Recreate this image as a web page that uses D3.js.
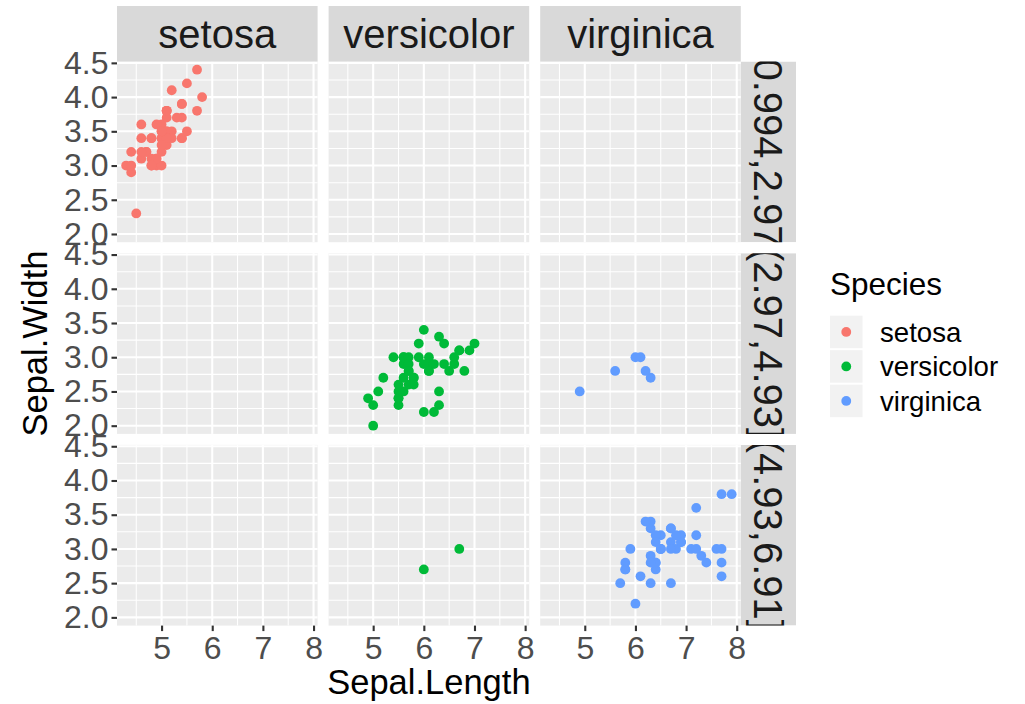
<!DOCTYPE html>
<html>
<head>
<meta charset="utf-8">
<script src="https://cdn.jsdelivr.net/npm/d3@7"></script>
<style>
  html, body { margin: 0; padding: 0; background: #ffffff; }
  svg { display: block; font-family: "Liberation Sans", Arial, Helvetica, sans-serif; }
</style>
</head>
<body>
<svg id="chart" width="1025" height="704"></svg>
<script>
// Facet columns (species) and facet rows (Petal.Length binned into 3 intervals)
const species = ["setosa", "versicolor", "virginica"];
const speciesColors = ["#F8766D", "#00BA38", "#619CFF"];
const petalBreaks = [0.994, 2.97, 4.93, 6.91];
const petalBinLabels = ["(0.994,2.97]", "(2.97,4.93]", "(4.93,6.91]"];
const xTicks = [5, 6, 7, 8];
const yTicks = [2.0, 2.5, 3.0, 3.5, 4.0, 4.5];
const xMinor = [4.5, 5.5, 6.5, 7.5];
const yMinor = [2.25, 2.75, 3.25, 3.75, 4.25];

// Iris measurements per species
const setosaSepalLength = [5.1,4.9,4.7,4.6,5.0,5.4,4.6,5.0,4.4,4.9,5.4,4.8,4.8,4.3,5.8,5.7,5.4,5.1,5.7,5.1,5.4,5.1,4.6,5.1,4.8,5.0,5.0,5.2,5.2,4.7,4.8,5.4,5.2,5.5,4.9,5.0,5.5,4.9,4.4,5.1,5.0,4.5,4.4,5.0,5.1,4.8,5.1,4.6,5.3,5.0];
const setosaSepalWidth  = [3.5,3.0,3.2,3.1,3.6,3.9,3.4,3.4,2.9,3.1,3.7,3.4,3.0,3.0,4.0,4.4,3.9,3.5,3.8,3.8,3.4,3.7,3.6,3.3,3.4,3.0,3.4,3.5,3.4,3.2,3.1,3.4,4.1,4.2,3.1,3.2,3.5,3.6,3.0,3.4,3.5,2.3,3.2,3.5,3.8,3.0,3.8,3.2,3.7,3.3];
const setosaPetalLength = [1.4,1.4,1.3,1.5,1.4,1.7,1.4,1.5,1.4,1.5,1.5,1.6,1.4,1.1,1.2,1.5,1.3,1.4,1.7,1.5,1.7,1.5,1.0,1.7,1.9,1.6,1.6,1.5,1.4,1.6,1.6,1.5,1.5,1.4,1.5,1.2,1.3,1.4,1.3,1.5,1.3,1.3,1.3,1.6,1.9,1.4,1.6,1.4,1.5,1.4];

const versicolorSepalLength = [7.0,6.4,6.9,5.5,6.5,5.7,6.3,4.9,6.6,5.2,5.0,5.9,6.0,6.1,5.6,6.7,5.6,5.8,6.2,5.6,5.9,6.1,6.3,6.1,6.4,6.6,6.8,6.7,6.0,5.7,5.5,5.5,5.8,6.0,5.4,6.0,6.7,6.3,5.6,5.5,5.5,6.1,5.8,5.0,5.6,5.7,5.7,6.2,5.1,5.7];
const versicolorSepalWidth  = [3.2,3.2,3.1,2.3,2.8,2.8,3.3,2.4,2.9,2.7,2.0,3.0,2.2,2.9,2.9,3.1,3.0,2.7,2.2,2.5,3.2,2.8,2.5,2.8,2.9,3.0,2.8,3.0,2.9,2.6,2.4,2.4,2.7,2.7,3.0,3.4,3.1,2.3,3.0,2.5,2.6,3.0,2.6,2.3,2.7,3.0,2.9,2.9,2.5,2.8];
const versicolorPetalLength = [4.7,4.5,4.9,4.0,4.6,4.5,4.7,3.3,4.6,3.9,3.5,4.2,4.0,4.7,3.6,4.4,4.5,4.1,4.5,3.9,4.8,4.0,4.9,4.7,4.3,4.4,4.8,5.0,4.5,3.5,3.8,3.7,3.9,5.1,4.5,4.5,4.7,4.4,4.1,4.0,4.4,4.6,4.0,3.3,4.2,4.2,4.2,4.3,3.0,4.1];

const virginicaSepalLength = [6.3,5.8,7.1,6.3,6.5,7.6,4.9,7.3,6.7,7.2,6.5,6.4,6.8,5.7,5.8,6.4,6.5,7.7,7.7,6.0,6.9,5.6,7.7,6.3,6.7,7.2,6.2,6.1,6.4,7.2,7.4,7.9,6.4,6.3,6.1,7.7,6.3,6.4,6.0,6.9,6.7,6.9,5.8,6.8,6.7,6.7,6.3,6.5,6.2,5.9];
const virginicaSepalWidth  = [3.3,2.7,3.0,2.9,3.0,3.0,2.5,2.9,2.5,3.6,3.2,2.7,3.0,2.5,2.8,3.2,3.0,3.8,2.6,2.2,3.2,2.8,2.8,2.7,3.3,3.2,2.8,3.0,2.8,3.0,2.8,3.8,2.8,2.8,2.6,3.0,3.4,3.1,3.0,3.1,3.1,3.1,2.7,3.2,3.3,3.0,2.5,3.0,3.4,3.0];
const virginicaPetalLength = [6.0,5.1,5.9,5.6,5.8,6.6,4.5,6.3,5.8,6.1,5.1,5.3,5.5,5.0,5.1,5.3,5.5,6.7,6.9,5.0,5.7,4.9,6.7,4.9,5.7,6.0,4.8,4.9,5.6,5.8,6.1,6.4,5.6,5.1,5.6,6.1,5.6,5.5,4.8,5.4,5.6,5.1,5.1,5.9,5.7,5.2,5.0,5.2,5.4,5.1];

const sepalLength = [setosaSepalLength, versicolorSepalLength, virginicaSepalLength];
const sepalWidth = [setosaSepalWidth, versicolorSepalWidth, virginicaSepalWidth];
const petalLength = [setosaPetalLength, versicolorPetalLength, virginicaPetalLength];

// Long-format table with facet row/column indices
const points = [];
species.forEach((sp, col) => {
  sepalLength[col].forEach((sl, i) => {
    const pl = petalLength[col][i];
    let row = 0;
    while (row < petalBinLabels.length - 1 && pl > petalBreaks[row + 1]) row++;
    points.push({ species: sp, col, row, x: sl, y: sepalWidth[col][i] });
  });
});

// Layout
const panelLeft = 117, panelTop = 61.5;
const panelW = 200.6, panelH = 180.7, gap = 11;
const stripTopY = 6, stripTopH = panelTop - stripTopY;
const stripRightW = 55.2;

const allX = sepalLength.flat(), allY = sepalWidth.flat();
const xExt = d3.extent(allX), yExt = d3.extent(allY);
const xPad = (xExt[1] - xExt[0]) * 0.05, yPad = (yExt[1] - yExt[0]) * 0.05;

const x = d3.scaleLinear().domain([xExt[0] - xPad, xExt[1] + xPad]).range([0, panelW]);
const y = d3.scaleLinear().domain([yExt[0] - yPad, yExt[1] + yPad]).range([panelH, 0]);
const color = d3.scaleOrdinal().domain(species).range(speciesColors);

const colX = c => panelLeft + c * (panelW + gap);
const rowY = r => panelTop + r * (panelH + gap);

const svg = d3.select("#chart");
const defs = svg.append("defs");

const axisTextSize = 32, axisTitleSize = 34.5, stripSize = 40, stripRightSize = 40;

// Panels
for (let r = 0; r < 3; r++) {
  for (let c = 0; c < 3; c++) {
    const g = svg.append("g").attr("transform", `translate(${colX(c)},${rowY(r)})`);
    g.append("rect").attr("width", panelW).attr("height", panelH).attr("fill", "#EBEBEB");
    g.selectAll(".vminor").data(xMinor).join("line")
      .attr("x1", d => x(d)).attr("x2", d => x(d)).attr("y1", 0).attr("y2", panelH)
      .attr("stroke", "#ffffff").attr("stroke-width", 1.05);
    g.selectAll(".hminor").data(yMinor).join("line")
      .attr("y1", d => y(d)).attr("y2", d => y(d)).attr("x1", 0).attr("x2", panelW)
      .attr("stroke", "#ffffff").attr("stroke-width", 1.05);
    g.selectAll(".vmajor").data(xTicks).join("line")
      .attr("x1", d => x(d)).attr("x2", d => x(d)).attr("y1", 0).attr("y2", panelH)
      .attr("stroke", "#ffffff").attr("stroke-width", 2.1);
    g.selectAll(".hmajor").data(yTicks).join("line")
      .attr("y1", d => y(d)).attr("y2", d => y(d)).attr("x1", 0).attr("x2", panelW)
      .attr("stroke", "#ffffff").attr("stroke-width", 2.1);

    g.selectAll("circle").data(points.filter(p => p.row === r && p.col === c)).join("circle")
      .attr("cx", d => x(d.x)).attr("cy", d => y(d.y)).attr("r", 4.9)
      .attr("fill", d => color(d.species));
  }
}

// Axes
function styleAxis(sel) {
  sel.select(".domain").remove();
  sel.selectAll(".tick line").attr("stroke", "#333333").attr("stroke-width", 2.1);
  sel.selectAll(".tick text").attr("fill", "#4D4D4D").attr("font-size", axisTextSize)
    .attr("font-family", "Liberation Sans, Arial, sans-serif");
}
for (let r = 0; r < 3; r++) {
  svg.append("g").attr("transform", `translate(${panelLeft},${rowY(r)})`)
    .call(d3.axisLeft(y).tickValues(yTicks).tickFormat(d3.format(".1f")).tickSize(5.5).tickPadding(3))
    .call(styleAxis);
}
for (let c = 0; c < 3; c++) {
  svg.append("g").attr("transform", `translate(${colX(c)},${rowY(2) + panelH})`)
    .call(d3.axisBottom(x).tickValues(xTicks).tickFormat(d3.format("d")).tickSize(5.5).tickPadding(5))
    .call(styleAxis);
}

// Column strips
species.forEach((sp, c) => {
  const g = svg.append("g").attr("transform", `translate(${colX(c)},${stripTopY})`);
  g.append("rect").attr("width", panelW).attr("height", stripTopH).attr("fill", "#D9D9D9");
  g.append("text").attr("x", panelW / 2).attr("y", stripTopH / 2).attr("dy", "0.36em")
    .attr("text-anchor", "middle").attr("font-size", stripSize).attr("fill", "#1A1A1A").text(sp);
});

// Row strips (text rotated and clipped to the strip)
petalBinLabels.forEach((lab, r) => {
  const sx = colX(2) + panelW, sy = rowY(r);
  defs.append("clipPath").attr("id", `rowstrip${r}`)
    .append("rect").attr("x", sx).attr("y", sy).attr("width", stripRightW).attr("height", panelH);
  const g = svg.append("g").attr("clip-path", `url(#rowstrip${r})`);
  g.append("rect").attr("x", sx).attr("y", sy).attr("width", stripRightW).attr("height", panelH).attr("fill", "#D9D9D9");
  g.append("text")
    .attr("transform", `translate(${sx + stripRightW / 2},${sy + panelH / 2}) rotate(90)`)
    .attr("dy", "0.36em").attr("text-anchor", "middle")
    .attr("font-size", stripRightSize).attr("fill", "#1A1A1A").text(lab);
});

// Axis titles
svg.append("text").attr("x", (panelLeft + colX(2) + panelW) / 2).attr("y", 694)
  .attr("text-anchor", "middle").attr("font-size", axisTitleSize).attr("fill", "#000").text("Sepal.Length");
svg.append("text").attr("transform", `translate(47,${(panelTop + rowY(2) + panelH) / 2}) rotate(-90)`)
  .attr("text-anchor", "middle").attr("font-size", axisTitleSize).attr("fill", "#000").text("Sepal.Width");

// Legend
const legend = svg.append("g").attr("transform", "translate(830,0)");
legend.append("text").attr("x", 0).attr("y", 295).attr("font-size", 31.5).attr("fill", "#000").text("Species");
const keySize = 32.5, keyStep = 34.5, keyTop = 315.7;
species.forEach((sp, i) => {
  const ky = keyTop + i * keyStep;
  legend.append("rect").attr("x", 0).attr("y", ky).attr("width", keySize).attr("height", keySize).attr("fill", "#F2F2F2");
  legend.append("circle").attr("cx", keySize / 2).attr("cy", ky + keySize / 2).attr("r", 4.9).attr("fill", color(sp));
  legend.append("text").attr("x", 50).attr("y", ky + keySize / 2).attr("dy", "0.36em")
    .attr("font-size", 27.6).attr("fill", "#000").text(sp);
});
</script>
</body>
</html>
